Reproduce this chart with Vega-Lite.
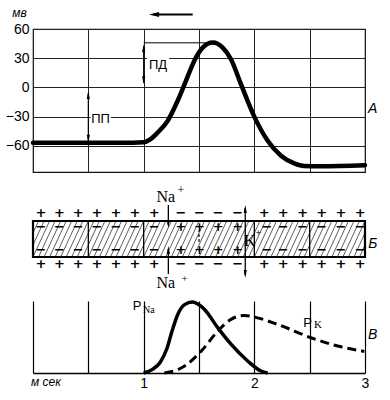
{
  "$schema": "https://vega.github.io/schema/vega-lite/v6.json",
  "padding": {"left": 4, "top": 5, "right": 5, "bottom": 5},
  "spacing": 0,
  "bounds": "flush",
  "background": "white",
  "config": {
    "view": {"stroke": null},
    "font": "Liberation Sans",
    "axis": {"labelFont": "Liberation Sans", "labelColor": "black", "titleColor": "black", "labelOverlap": false}
  },
  "resolve": {"scale": {"x": "independent", "y": "independent"}},
  "datasets": {
    "potential": [
      {"t": 0, "v": -57}, {"t": 0.5, "v": -57}, {"t": 0.9, "v": -57}, {"t": 1.0, "v": -56.5},
      {"t": 1.06, "v": -53.5}, {"t": 1.127, "v": -46.4}, {"t": 1.217, "v": -34.4}, {"t": 1.307, "v": -13.8},
      {"t": 1.382, "v": 6.7}, {"t": 1.457, "v": 27.2}, {"t": 1.533, "v": 40.8}, {"t": 1.624, "v": 46},
      {"t": 1.714, "v": 40.8}, {"t": 1.789, "v": 28.9}, {"t": 1.879, "v": 3.3}, {"t": 2.006, "v": -31.6},
      {"t": 2.121, "v": -54.9}, {"t": 2.241, "v": -70.3}, {"t": 2.361, "v": -78.2}, {"t": 2.45, "v": -80.8},
      {"t": 2.6, "v": -81}, {"t": 3.0, "v": -80}
    ],
    "pna": [
      {"t": 1.0, "p": 0}, {"t": 1.08, "p": 0.05}, {"t": 1.15, "p": 0.15}, {"t": 1.21, "p": 0.34},
      {"t": 1.26, "p": 0.6}, {"t": 1.31, "p": 0.82}, {"t": 1.37, "p": 0.95}, {"t": 1.44, "p": 0.985},
      {"t": 1.548, "p": 0.885}, {"t": 1.669, "p": 0.63}, {"t": 1.789, "p": 0.4}, {"t": 1.94, "p": 0.167},
      {"t": 2.06, "p": 0.028}, {"t": 2.12, "p": 0}
    ],
    "pk": [
      {"t": 1.187, "p": 0}, {"t": 1.367, "p": 0.093}, {"t": 1.518, "p": 0.3}, {"t": 1.669, "p": 0.58},
      {"t": 1.789, "p": 0.745}, {"t": 1.91, "p": 0.8}, {"t": 2.0, "p": 0.777}, {"t": 2.211, "p": 0.675},
      {"t": 2.512, "p": 0.49}, {"t": 2.753, "p": 0.375}, {"t": 2.994, "p": 0.3}
    ],
    "signs": [
      {"x": 0.072, "y": 88, "s": "+"}, {"x": 0.238, "y": 88, "s": "+"}, {"x": 0.409, "y": 88, "s": "+"},
      {"x": 0.578, "y": 88, "s": "+"}, {"x": 0.75, "y": 88, "s": "+"}, {"x": 0.922, "y": 88, "s": "+"},
      {"x": 1.096, "y": 88, "s": "+"}, {"x": 1.337, "y": 88, "s": "−"}, {"x": 1.503, "y": 88, "s": "−"},
      {"x": 1.674, "y": 88, "s": "−"}, {"x": 1.85, "y": 88, "s": "−"}, {"x": 2.09, "y": 88, "s": "+"},
      {"x": 2.262, "y": 88, "s": "+"}, {"x": 2.437, "y": 88, "s": "+"}, {"x": 2.609, "y": 88, "s": "+"},
      {"x": 2.783, "y": 88, "s": "+"}, {"x": 2.957, "y": 88, "s": "+"},
      {"x": 0.072, "y": 37, "s": "+"}, {"x": 0.238, "y": 37, "s": "+"}, {"x": 0.409, "y": 37, "s": "+"},
      {"x": 0.578, "y": 37, "s": "+"}, {"x": 0.75, "y": 37, "s": "+"}, {"x": 0.922, "y": 37, "s": "+"},
      {"x": 1.096, "y": 37, "s": "+"}, {"x": 1.337, "y": 37, "s": "−"}, {"x": 1.503, "y": 37, "s": "−"},
      {"x": 1.674, "y": 37, "s": "−"}, {"x": 1.85, "y": 37, "s": "−"}, {"x": 2.09, "y": 37, "s": "+"},
      {"x": 2.262, "y": 37, "s": "+"}, {"x": 2.437, "y": 37, "s": "+"}, {"x": 2.609, "y": 37, "s": "+"},
      {"x": 2.783, "y": 37, "s": "+"}, {"x": 2.957, "y": 37, "s": "+"},
      {"x": 0.072, "y": 74.5, "s": "−"}, {"x": 0.238, "y": 74.5, "s": "−"}, {"x": 0.409, "y": 74.5, "s": "−"},
      {"x": 0.578, "y": 74.5, "s": "−"}, {"x": 0.75, "y": 74.5, "s": "−"}, {"x": 0.922, "y": 74.5, "s": "−"},
      {"x": 1.096, "y": 74.5, "s": "−"}, {"x": 1.337, "y": 74.5, "s": "+"}, {"x": 1.503, "y": 74.5, "s": "+"},
      {"x": 1.674, "y": 74.5, "s": "+"}, {"x": 1.85, "y": 74.5, "s": "+"}, {"x": 2.115, "y": 74.5, "s": "−"},
      {"x": 2.262, "y": 74.5, "s": "−"}, {"x": 2.437, "y": 74.5, "s": "−"}, {"x": 2.609, "y": 74.5, "s": "−"},
      {"x": 2.783, "y": 74.5, "s": "−"}, {"x": 2.957, "y": 74.5, "s": "−"},
      {"x": 0.072, "y": 51.5, "s": "−"}, {"x": 0.238, "y": 51.5, "s": "−"}, {"x": 0.409, "y": 51.5, "s": "−"},
      {"x": 0.578, "y": 51.5, "s": "−"}, {"x": 0.75, "y": 51.5, "s": "−"}, {"x": 0.922, "y": 51.5, "s": "−"},
      {"x": 1.096, "y": 51.5, "s": "−"}, {"x": 1.337, "y": 51.5, "s": "+"}, {"x": 1.503, "y": 51.5, "s": "+"},
      {"x": 1.674, "y": 51.5, "s": "+"}, {"x": 1.85, "y": 51.5, "s": "+"}, {"x": 2.115, "y": 51.5, "s": "−"},
      {"x": 2.262, "y": 51.5, "s": "−"}, {"x": 2.437, "y": 51.5, "s": "−"}, {"x": 2.609, "y": 51.5, "s": "−"},
      {"x": 2.783, "y": 51.5, "s": "−"}, {"x": 2.957, "y": 51.5, "s": "−"}
    ],
    "hatch": [
      {"h": -0.15, "h2": 0}, {"h": -0.1, "h2": 0.05}, {"h": -0.05, "h2": 0.1}, {"h": 0, "h2": 0.15},
      {"h": 0.05, "h2": 0.2}, {"h": 0.1, "h2": 0.25}, {"h": 0.15, "h2": 0.3}, {"h": 0.2, "h2": 0.35},
      {"h": 0.25, "h2": 0.4}, {"h": 0.3, "h2": 0.45}, {"h": 0.35, "h2": 0.5}, {"h": 0.4, "h2": 0.55},
      {"h": 0.45, "h2": 0.6}, {"h": 0.5, "h2": 0.65}, {"h": 0.55, "h2": 0.7}, {"h": 0.6, "h2": 0.75},
      {"h": 0.65, "h2": 0.8}, {"h": 0.7, "h2": 0.85}, {"h": 0.75, "h2": 0.9}, {"h": 0.8, "h2": 0.95},
      {"h": 0.85, "h2": 1.0}, {"h": 0.9, "h2": 1.05}, {"h": 0.95, "h2": 1.1}, {"h": 1.0, "h2": 1.15},
      {"h": 1.05, "h2": 1.2}, {"h": 1.1, "h2": 1.25}, {"h": 1.15, "h2": 1.3}, {"h": 1.2, "h2": 1.35},
      {"h": 1.25, "h2": 1.4}, {"h": 1.3, "h2": 1.45}, {"h": 1.35, "h2": 1.5}, {"h": 1.4, "h2": 1.55},
      {"h": 1.45, "h2": 1.6}, {"h": 1.5, "h2": 1.65}, {"h": 1.55, "h2": 1.7}, {"h": 1.6, "h2": 1.75},
      {"h": 1.65, "h2": 1.8}, {"h": 1.7, "h2": 1.85}, {"h": 1.75, "h2": 1.9}, {"h": 1.8, "h2": 1.95},
      {"h": 1.85, "h2": 2.0}, {"h": 1.9, "h2": 2.05}, {"h": 1.95, "h2": 2.1}, {"h": 2.0, "h2": 2.15},
      {"h": 2.05, "h2": 2.2}, {"h": 2.1, "h2": 2.25}, {"h": 2.15, "h2": 2.3}, {"h": 2.2, "h2": 2.35},
      {"h": 2.25, "h2": 2.4}, {"h": 2.3, "h2": 2.45}, {"h": 2.35, "h2": 2.5}, {"h": 2.4, "h2": 2.55},
      {"h": 2.45, "h2": 2.6}, {"h": 2.5, "h2": 2.65}, {"h": 2.55, "h2": 2.7}, {"h": 2.6, "h2": 2.75},
      {"h": 2.65, "h2": 2.8}, {"h": 2.7, "h2": 2.85}, {"h": 2.75, "h2": 2.9}, {"h": 2.8, "h2": 2.95},
      {"h": 2.85, "h2": 3.0}, {"h": 2.9, "h2": 3.05}, {"h": 2.95, "h2": 3.1}
    ],
    "dividers": [{"x": 0.5}, {"x": 1.0}, {"x": 2.0}, {"x": 2.5}]
  },
  "vconcat": [
    {
      "width": 332,
      "height": 143,
      "data": {"values": [{}]},
      "view": {"stroke": "#111", "strokeWidth": 1.2},
      "encoding": {
        "x": {"type": "quantitative", "scale": {"domain": [0, 3], "nice": false, "zero": false},
          "axis": {"values": [0, 0.5, 1, 1.5, 2, 2.5, 3], "grid": true, "labels": false, "ticks": false, "domain": false, "title": null, "gridColor": "#222", "gridWidth": 1, "gridOpacity": 1}},
        "y": {"type": "quantitative", "scale": {"domain": [-87, 60], "nice": false, "zero": false},
          "axis": {"values": [60, 30, 0, -30, -60], "grid": true, "ticks": false, "domain": false, "gridColor": "#222", "gridWidth": 1, "gridOpacity": 1,
            "labelFontSize": 14, "labelPadding": 4,
            "title": "мв", "titleAngle": 0, "titleX": -14, "titleY": -17, "titleAlign": "center", "titleBaseline": "middle",
            "titleFontSize": 12, "titleFontStyle": "italic", "titleFontWeight": "normal", "titleFont": "Liberation Sans"}}
      },
      "layer": [
        {
          "data": {"name": "potential"},
          "mark": {"type": "line", "interpolate": "monotone", "color": "black", "strokeWidth": 4.5, "strokeCap": "round"},
          "encoding": {"x": {"field": "t", "type": "quantitative"}, "y": {"field": "v", "type": "quantitative"}}
        },
        {
          "mark": {"type": "rect", "fill": "white"},
          "encoding": {"x": {"datum": 1.03}, "x2": {"datum": 1.23}, "y": {"datum": 31}, "y2": {"datum": 17}}
        },
        {
          "mark": {"type": "rect", "fill": "white"},
          "encoding": {"x": {"datum": 0.52}, "x2": {"datum": 0.705}, "y": {"datum": -26.5}, "y2": {"datum": -39}}
        },
        {
          "mark": {"type": "text", "text": "ПД", "fontSize": 13, "align": "center", "baseline": "middle"},
          "encoding": {"x": {"datum": 1.13}, "y": {"datum": 23.5}}
        },
        {
          "mark": {"type": "text", "text": "ПП", "fontSize": 13, "align": "center", "baseline": "middle"},
          "encoding": {"x": {"datum": 0.61}, "y": {"datum": -32.8}}
        },
        {
          "mark": {"type": "text", "text": "А", "fontSize": 14, "fontStyle": "italic", "align": "center", "baseline": "middle"},
          "encoding": {"x": {"datum": 3.07}, "y": {"datum": -22}}
        },
        {
          "mark": {"type": "rule", "color": "black", "strokeWidth": 1},
          "encoding": {"x": {"datum": 1.0}, "x2": {"datum": 1.58}, "y": {"datum": 45.8}}
        },
        {
          "mark": {"type": "rule", "color": "black", "strokeWidth": 1.2},
          "encoding": {"x": {"datum": 1.0}, "y": {"datum": 42}, "y2": {"datum": 5}}
        },
        {
          "mark": {"type": "point", "shape": "M0,-1L0.4,1L-0.4,1Z", "filled": true, "color": "black", "opacity": 1, "size": 64},
          "encoding": {"x": {"datum": 1.0}, "y": {"datum": 40.2}}
        },
        {
          "mark": {"type": "point", "shape": "M0,1L0.4,-1L-0.4,-1Z", "filled": true, "color": "black", "opacity": 1, "size": 64},
          "encoding": {"x": {"datum": 1.0}, "y": {"datum": 7.3}}
        },
        {
          "mark": {"type": "rule", "color": "black", "strokeWidth": 1.2},
          "encoding": {"x": {"datum": 0.5}, "y": {"datum": -6}, "y2": {"datum": -55}}
        },
        {
          "mark": {"type": "point", "shape": "M0,-1L0.4,1L-0.4,1Z", "filled": true, "color": "black", "opacity": 1, "size": 64},
          "encoding": {"x": {"datum": 0.5}, "y": {"datum": -7.8}}
        },
        {
          "mark": {"type": "point", "shape": "M0,1L0.4,-1L-0.4,-1Z", "filled": true, "color": "black", "opacity": 1, "size": 64},
          "encoding": {"x": {"datum": 0.5}, "y": {"datum": -52.8}}
        },
        {
          "mark": {"type": "rule", "color": "black", "strokeWidth": 2},
          "encoding": {"x": {"datum": 1.09}, "x2": {"datum": 1.443}, "y": {"datum": 75}}
        },
        {
          "mark": {"type": "point", "shape": "M-1,0L1,-0.5L1,0.5Z", "filled": true, "color": "black", "opacity": 1, "size": 100},
          "encoding": {"x": {"datum": 1.094}, "y": {"datum": 75}}
        }
      ]
    },
    {
      "width": 332,
      "height": 129,
      "data": {"values": [{}]},
      "encoding": {
        "x": {"type": "quantitative", "scale": {"domain": [0, 3], "nice": false, "zero": false}, "axis": null},
        "y": {"type": "quantitative", "scale": {"domain": [0, 129], "nice": false, "zero": false}, "axis": null}
      },
      "layer": [
        {
          "data": {"name": "hatch"},
          "mark": {"type": "rule", "color": "#333", "strokeWidth": 0.8, "clip": true},
          "encoding": {"x": {"field": "h", "type": "quantitative"}, "x2": {"field": "h2"}, "y": {"datum": 44}, "y2": {"datum": 80}}
        },
        {
          "mark": {"type": "rect", "fill": null, "stroke": "black", "strokeWidth": 2.2},
          "encoding": {"x": {"datum": 0}, "x2": {"datum": 3}, "y": {"datum": 44}, "y2": {"datum": 80}}
        },
        {
          "data": {"name": "dividers"},
          "mark": {"type": "rule", "color": "black", "strokeWidth": 1.3},
          "encoding": {"x": {"field": "x", "type": "quantitative"}, "y": {"datum": 44}, "y2": {"datum": 80}}
        },
        {
          "mark": {"type": "rule", "color": "black", "strokeWidth": 1.2, "strokeDash": [3, 2]},
          "encoding": {"x": {"datum": 1.5}, "y": {"datum": 59}, "y2": {"datum": 70}}
        },
        {
          "data": {"name": "signs"},
          "mark": {"type": "text", "font": "DejaVu Sans", "fontSize": 13, "fontWeight": "bold", "align": "center", "baseline": "middle", "color": "black"},
          "encoding": {"x": {"field": "x", "type": "quantitative"}, "y": {"field": "y", "type": "quantitative"}, "text": {"field": "s"}}
        },
        {
          "mark": {"type": "rule", "color": "black", "strokeWidth": 1.3},
          "encoding": {"x": {"datum": 1.223}, "y": {"datum": 96}, "y2": {"datum": 76}}
        },
        {
          "mark": {"type": "point", "shape": "M0,1L0.4,-1L-0.4,-1Z", "filled": true, "color": "black", "opacity": 1, "size": 64},
          "encoding": {"x": {"datum": 1.223}, "y": {"datum": 77}}
        },
        {
          "mark": {"type": "rule", "color": "black", "strokeWidth": 1.3},
          "encoding": {"x": {"datum": 1.223}, "y": {"datum": 27}, "y2": {"datum": 52}}
        },
        {
          "mark": {"type": "point", "shape": "M0,-1L0.4,1L-0.4,1Z", "filled": true, "color": "black", "opacity": 1, "size": 64},
          "encoding": {"x": {"datum": 1.223}, "y": {"datum": 51}}
        },
        {
          "mark": {"type": "rule", "color": "black", "strokeWidth": 1.3},
          "encoding": {"x": {"datum": 1.918}, "y": {"datum": 93}, "y2": {"datum": 26}}
        },
        {
          "mark": {"type": "point", "shape": "M0,-1L0.4,1L-0.4,1Z", "filled": true, "color": "black", "opacity": 1, "size": 64},
          "encoding": {"x": {"datum": 1.918}, "y": {"datum": 92}}
        },
        {
          "mark": {"type": "point", "shape": "M0,1L0.4,-1L-0.4,-1Z", "filled": true, "color": "black", "opacity": 1, "size": 64},
          "encoding": {"x": {"datum": 1.918}, "y": {"datum": 27}}
        },
        {
          "mark": {"type": "text", "text": "Na", "font": "Liberation Serif", "fontSize": 16, "align": "center", "baseline": "middle"},
          "encoding": {"x": {"datum": 1.2}, "y": {"datum": 104}}
        },
        {
          "mark": {"type": "text", "text": "+", "font": "Liberation Serif", "fontSize": 12, "align": "center", "baseline": "middle"},
          "encoding": {"x": {"datum": 1.337}, "y": {"datum": 111}}
        },
        {
          "mark": {"type": "text", "text": "Na", "font": "Liberation Serif", "fontSize": 16, "align": "center", "baseline": "middle"},
          "encoding": {"x": {"datum": 1.2}, "y": {"datum": 18}}
        },
        {
          "mark": {"type": "text", "text": "+", "font": "Liberation Serif", "fontSize": 11, "align": "center", "baseline": "middle"},
          "encoding": {"x": {"datum": 1.37}, "y": {"datum": 22.5}}
        },
        {
          "mark": {"type": "text", "text": "K", "font": "Liberation Serif", "fontSize": 16, "align": "center", "baseline": "middle"},
          "encoding": {"x": {"datum": 1.958}, "y": {"datum": 60}}
        },
        {
          "mark": {"type": "text", "text": "+", "font": "Liberation Serif", "fontSize": 11, "align": "center", "baseline": "middle"},
          "encoding": {"x": {"datum": 2.037}, "y": {"datum": 68}}
        },
        {
          "mark": {"type": "text", "text": "Б", "fontSize": 14, "fontStyle": "italic", "align": "center", "baseline": "middle"},
          "encoding": {"x": {"datum": 3.07}, "y": {"datum": 57}}
        }
      ]
    },
    {
      "width": 332,
      "height": 72,
      "data": {"values": [{}]},
      "encoding": {
        "x": {"type": "quantitative", "scale": {"domain": [0, 3], "nice": false, "zero": false},
          "axis": {"values": [0, 0.5, 1, 1.5, 2, 2.5, 3], "grid": true, "gridColor": "black", "gridWidth": 1.2, "gridOpacity": 1,
            "ticks": false, "domain": true, "domainColor": "black", "domainWidth": 1.5, "title": null,
            "labelExpr": "datum.value == 1 ? '1' : datum.value == 2 ? '2' : datum.value == 3 ? '3' : ''",
            "labelFontSize": 14, "labelPadding": 3, "labelFlush": false}},
        "y": {"type": "quantitative", "scale": {"domain": [0, 1], "nice": false, "zero": false}, "axis": null}
      },
      "layer": [
        {
          "data": {"name": "pna"},
          "mark": {"type": "line", "interpolate": "monotone", "color": "black", "strokeWidth": 3.5},
          "encoding": {"x": {"field": "t", "type": "quantitative"}, "y": {"field": "p", "type": "quantitative"}}
        },
        {
          "data": {"name": "pk"},
          "mark": {"type": "line", "interpolate": "monotone", "color": "black", "strokeWidth": 3, "strokeDash": [9, 5]},
          "encoding": {"x": {"field": "t", "type": "quantitative"}, "y": {"field": "p", "type": "quantitative"}}
        },
        {
          "mark": {"type": "text", "text": "P", "fontSize": 13, "align": "center", "baseline": "middle"},
          "encoding": {"x": {"datum": 0.94}, "y": {"datum": 0.93}}
        },
        {
          "mark": {"type": "text", "text": "Na", "font": "Liberation Serif", "fontSize": 10, "align": "left", "baseline": "middle"},
          "encoding": {"x": {"datum": 0.995}, "y": {"datum": 0.87}}
        },
        {
          "mark": {"type": "text", "text": "P", "fontSize": 13, "align": "center", "baseline": "middle"},
          "encoding": {"x": {"datum": 2.482}, "y": {"datum": 0.7}}
        },
        {
          "mark": {"type": "text", "text": "K", "font": "Liberation Serif", "fontSize": 11, "align": "center", "baseline": "middle"},
          "encoding": {"x": {"datum": 2.575}, "y": {"datum": 0.66}}
        },
        {
          "mark": {"type": "text", "text": "В", "fontSize": 14, "fontStyle": "italic", "align": "center", "baseline": "middle"},
          "encoding": {"x": {"datum": 3.07}, "y": {"datum": 0.53}}
        },
        {
          "mark": {"type": "text", "text": "м сек", "fontSize": 12, "fontStyle": "italic", "align": "left", "baseline": "middle"},
          "encoding": {"x": {"datum": -0.018}, "y": {"datum": -0.125}}
        }
      ]
    }
  ]
}
